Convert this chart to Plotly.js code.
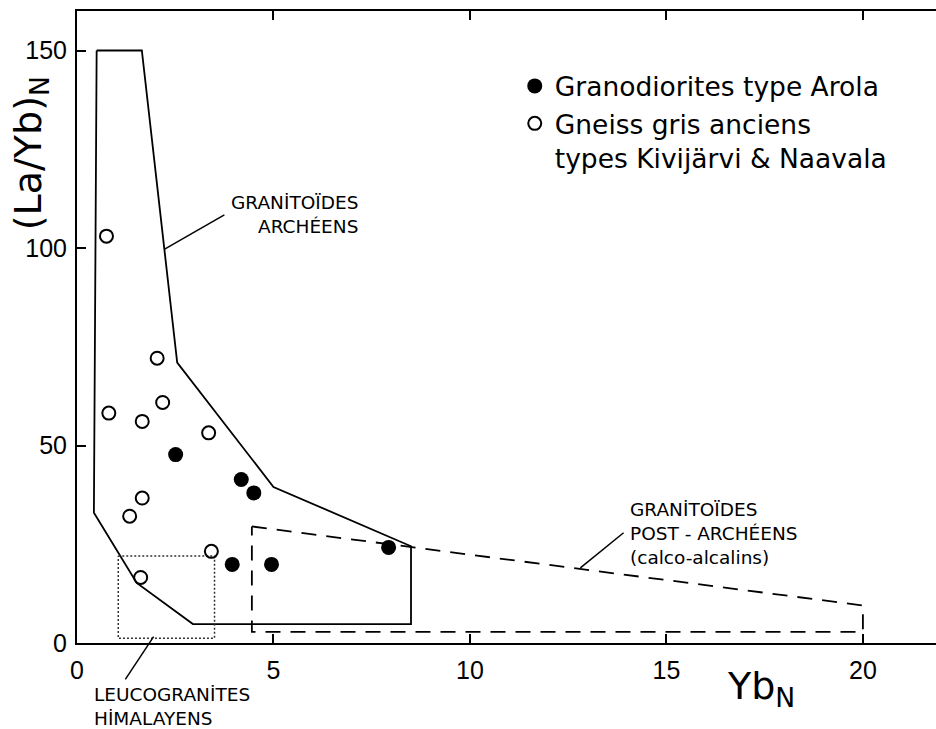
<!DOCTYPE html>
<html>
<head>
<meta charset="utf-8">
<script src="https://cdn.plot.ly/plotly-3.0.1.min.js"></script>
<style>html,body{margin:0;padding:0;background:#fff;}#chart{width:936px;height:729px;}</style>
</head>
<body>
<div id="chart"></div>
<script>
// Data: Yb_N (x) vs (La/Yb)_N (y)
const aroXs = [2.51, 4.18, 4.50, 3.95, 4.95, 7.93];
const aroYs = [47.7, 41.4, 38.0, 19.9, 19.9, 24.2];
const gneissXs = [0.75, 2.04, 2.18, 0.81, 1.66, 3.35, 1.66, 1.34, 3.42, 1.62];
const gneissYs = [103, 72.1, 60.9, 58.2, 56.1, 53.2, 36.7, 32.1, 23.2, 16.6];

// Field outlines
const archX = [0.5, 1.65, 2.55, 5.0, 8.5, 8.5, 2.95, 1.52, 0.43, 0.5];
const archY = [150, 150, 71, 39.5, 24.5, 4.8, 4.8, 15.2, 33, 150];
const postX = [4.45, 20, 20, 4.45, 4.45];
const postY = [29.5, 9.5, 2.8, 2.8, 29.5];
const leucoX = [1.05, 3.5, 3.5, 1.05, 1.05];
const leucoY = [22, 22, 1.2, 1.2, 22];

const xTicks = [0, 5, 10, 15, 20];
const yTicks = [0, 50, 100, 150];
const xRange = [0, 21.86];
const yRange = [0, 160];

const legendNames = ["Granodiorites type Arola", "Gneiss gris anciens<br>types Kivijärvi & Naavala"];

const TXT = "DejaVu Sans";
const NUM = "Liberation Sans";

const traces = [
  {x: archX, y: archY, mode: "lines", line: {color: "#000", width: 1.8}, showlegend: false, hoverinfo: "skip"},
  {x: postX, y: postY, mode: "lines", line: {color: "#000", width: 1.8, dash: "15px,10px"}, showlegend: false, hoverinfo: "skip"},
  {x: leucoX, y: leucoY, mode: "lines", line: {color: "#333", width: 1.5, dash: "2px,2px"}, showlegend: false, hoverinfo: "skip"},
  {x: aroXs, y: aroYs, mode: "markers", name: legendNames[0],
   marker: {symbol: "circle", size: 15, color: "#000"}},
  {x: gneissXs, y: gneissYs, mode: "markers", name: legendNames[1],
   marker: {symbol: "circle-open", size: 13, color: "#000", line: {width: 2, color: "#000"}}}
];

const axisCommon = {
  showline: true, linecolor: "#000", linewidth: 2,
  ticks: "inside", ticklen: 9, tickwidth: 2, tickcolor: "#000",
  showgrid: false, zeroline: false,
  tickfont: {family: NUM, size: 25, color: "#000"}
};

// y value -> paper fraction, through the y axis range
function yPaper(v) { return (v - yRange[0]) / (yRange[1] - yRange[0]); }

function leader(hx, hy, tx, ty) {
  return {type: "line", xref: "x", yref: "y", x0: hx, y0: hy, x1: tx, y1: ty,
          line: {color: "#000", width: 1.5}};
}

const layout = {
  width: 936, height: 729,
  margin: {l: 77, r: 0, t: 11, b: 86},
  paper_bgcolor: "#fff", plot_bgcolor: "#fff",
  font: {family: TXT, color: "#000"},
  xaxis: Object.assign({}, axisCommon, {range: xRange, tickvals: xTicks, mirror: "ticks", ticklabelstandoff: 4}),
  yaxis: Object.assign({}, axisCommon, {range: yRange, tickvals: yTicks, mirror: false, ticklabelstandoff: 3}),
  yaxis2: {overlaying: "y", side: "right", range: yRange, tickvals: yTicks, showticklabels: false,
           showline: false, showgrid: false, zeroline: false, ticks: "inside", ticklen: 9, tickwidth: 2, tickcolor: "#000"},
  showlegend: true,
  legend: {x: 0.5096, xanchor: "left", y: 0.919, yanchor: "top", valign: "top",
           font: {family: TXT, size: 26.5, color: "#000"}, bgcolor: "rgba(0,0,0,0)",
           tracegroupgap: 0, itemclick: false},
  shapes: [
    leader(2.23, 99.7, 3.75, 108.4),
    leader(12.81, 19.0, 13.91, 27.9),
    {type: "line", xref: "x", yref: "paper", x0: 1.95, y0: yPaper(1.6), x1: 1.23, y1: yPaper(-9.2),
     line: {color: "#000", width: 1.5}}
  ],
  annotations: [
    {text: "(La/Yb)<sub>N</sub>", textangle: -90, xref: "paper", yref: "paper", x: -0.0547, y: 0.775,
     xanchor: "center", yanchor: "middle", showarrow: false, font: {family: TXT, size: 38}},
    {text: "Yb<sub>N</sub>", xref: "paper", yref: "paper", x: 0.7544, y: -0.030,
     xanchor: "left", yanchor: "top", showarrow: false, font: {family: TXT, size: 38}},
    {text: "GRANİTOÏDES<br>ARCHÉENS", xref: "x", yref: "y", x: 7.2, y: 108.4, xanchor: "right", yanchor: "middle",
     align: "right", showarrow: false, font: {family: TXT, size: 18.5}},
    {text: "GRANİTOÏDES<br>POST - ARCHÉENS<br>(calco-alcalins)", xref: "x", yref: "y", x: 14.02, y: 27.7,
     xanchor: "left", yanchor: "middle", align: "left", showarrow: false, font: {family: TXT, size: 18.5}},
    {text: "LEUCOGRANİTES<br>HİMALAYENS", xref: "paper", yref: "paper", x: 0.0175, y: -0.0997,
     xanchor: "left", yanchor: "middle", align: "left", showarrow: false, font: {family: TXT, size: 18.5}}
  ]
};

Plotly.newPlot("chart", traces, layout, {displayModeBar: false, staticPlot: true});
</script>
</body>
</html>
